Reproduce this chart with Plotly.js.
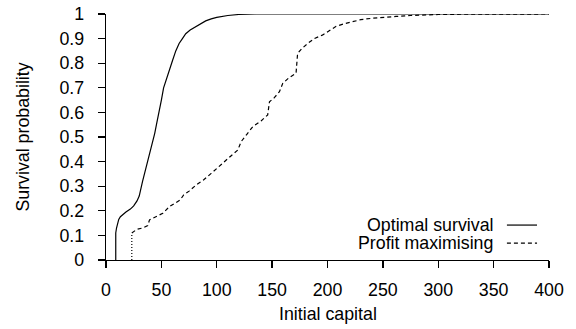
<!DOCTYPE html>
<html>
<head>
<meta charset="utf-8">
<script src="https://cdn.plot.ly/plotly-3.0.1.min.js"></script>
<style>html,body{margin:0;padding:0;background:#fff;}#chart{width:576px;height:329px;}</style>
</head>
<body>
<div id="chart"></div>
<script>
// Optimal survival curve
const optX = [8.8, 8.8, 9.5, 10.5, 11.5, 13, 15, 18, 22, 25, 28, 30, 33, 36, 39, 42, 44, 46, 48, 50, 52, 54, 56, 58, 60, 63, 66, 69, 72, 76, 80, 85, 90, 95, 100, 110, 120, 135, 150, 200, 300, 400];
const optY = [0, 0.11, 0.13, 0.15, 0.165, 0.176, 0.185, 0.195, 0.207, 0.22, 0.24, 0.26, 0.32, 0.37, 0.43, 0.48, 0.515, 0.56, 0.6, 0.65, 0.7, 0.73, 0.75, 0.78, 0.81, 0.85, 0.88, 0.9, 0.92, 0.935, 0.945, 0.96, 0.972, 0.98, 0.986, 0.994, 0.998, 1, 1, 1, 1, 1];

// Profit maximising curve
const profX = [23.3, 28, 33, 37.7, 39.3, 45, 51.3, 57.3, 62, 67, 70, 75, 81.4, 88, 95, 100, 105.4, 112, 119, 122, 127, 132.5, 140, 146, 147.6, 152, 156.6, 159.6, 165, 171.6, 173, 177, 182, 188, 195.7, 202, 207.8, 215, 222.7, 230, 240.8, 250, 261.9, 275, 290, 300, 320, 350, 400];
const profY = [0.11, 0.125, 0.13, 0.14, 0.163, 0.175, 0.19, 0.217, 0.23, 0.244, 0.264, 0.28, 0.305, 0.325, 0.352, 0.373, 0.393, 0.42, 0.447, 0.481, 0.51, 0.542, 0.565, 0.59, 0.643, 0.66, 0.684, 0.718, 0.74, 0.759, 0.84, 0.86, 0.88, 0.9, 0.915, 0.935, 0.95, 0.96, 0.97, 0.977, 0.983, 0.987, 0.99, 0.994, 0.997, 0.998, 0.999, 1, 1];

// Vertical dotted jump of profit maximising
const jumpX = [23.3, 23.3];
const jumpY = [0, 0.11];

const xTicks = [0, 50, 100, 150, 200, 250, 300, 350, 400];
const yTicks = [0, 0.1, 0.2, 0.3, 0.4, 0.5, 0.6, 0.7, 0.8, 0.9, 1];
const seriesNames = ["Optimal survival", "Profit maximising"];
const axisTitles = ["Initial capital", "Survival probability"];

const font = {family: "Liberation Sans, Arial, sans-serif", size: 17.8, color: "#000"};

const traces = [
  {x: optX, y: optY, mode: "lines", name: seriesNames[0], line: {color: "#000", width: 1.2}, showlegend: false},
  {x: profX, y: profY, mode: "lines", name: seriesNames[1], line: {color: "#000", width: 1.2, dash: "4px,3px"}, showlegend: false},
  {x: jumpX, y: jumpY, mode: "lines", line: {color: "#000", width: 1.2, dash: "1px,2px"}, showlegend: false}
];

const legY = [0.142, 0.069];
const annotations = seriesNames.map((n, i) => ({
  xref: "paper", yref: "paper", x: 0.878, y: legY[i], xanchor: "right", yanchor: "middle",
  text: n, showarrow: false, font: font
}));
annotations.push({
  xref: "paper", yref: "paper", x: 0.5, y: -0.22, xanchor: "center", yanchor: "middle",
  text: axisTitles[0], showarrow: false, font: font
});
const shapes = [
  {type: "line", xref: "paper", yref: "paper", x0: 0.905, x1: 0.973, y0: legY[0], y1: legY[0], line: {color: "#000", width: 1.2}},
  {type: "line", xref: "paper", yref: "paper", x0: 0.905, x1: 0.973, y0: legY[1], y1: legY[1], line: {color: "#000", width: 1.2, dash: "4px,3px"}}
];

const layout = {
  width: 576, height: 329,
  margin: {l: 106, r: 27, t: 14, b: 69},
  paper_bgcolor: "#fff", plot_bgcolor: "#fff",
  font: font,
  showlegend: false,
  xaxis: {
    range: [0, 400], tickvals: xTicks, ticktext: xTicks.map(String),
    showgrid: false, zeroline: false, showline: true, linecolor: "#000", linewidth: 1.3,
    ticks: "outside", ticklen: 7, tickwidth: 1.3, tickcolor: "#000",
    ticklabelstandoff: 6,
    automargin: false
  },
  yaxis: {
    range: [0, 1], tickvals: yTicks, ticktext: yTicks.map(String),
    showgrid: false, zeroline: false, showline: true, linecolor: "#000", linewidth: 1.3,
    ticks: "outside", ticklen: 7, tickwidth: 1.3, tickcolor: "#000",
    ticklabelstandoff: 10,
    title: {text: axisTitles[1], font: font, standoff: 25},
    automargin: false
  },
  annotations: annotations,
  shapes: shapes
};

Plotly.newPlot("chart", traces, layout, {displayModeBar: false, staticPlot: true});
</script>
</body>
</html>
